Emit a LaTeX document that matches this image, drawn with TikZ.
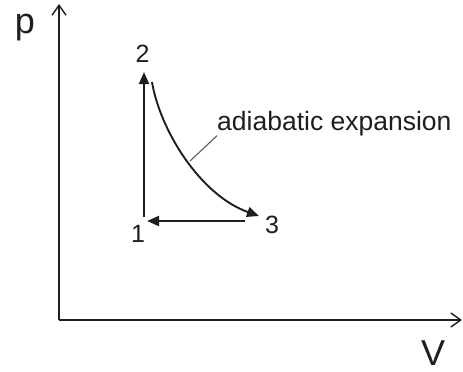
\documentclass[tikz,border=0pt]{standalone}
\usepackage{fontspec}
\setmainfont{Liberation Sans}
\usetikzlibrary{arrows.meta}
\definecolor{inkgray}{RGB}{30,30,30}
\definecolor{leadgray}{RGB}{90,90,90}

\begin{document}
\begin{tikzpicture}[x=1pt,y=-1pt,line join=round,
    axis/.style={line width=1.6pt,inkgray,-{Straight Barb[length=10pt,width=14pt,line width=1.4pt]}},
    process/.style={line width=1.9pt,inkgray,-{Triangle[length=12pt,width=10pt]}},
    statelabel/.style={font=\fontsize{25}{25}\selectfont,inkgray,anchor=base},
    axislabel/.style={font=\fontsize{36}{36}\selectfont,inkgray,anchor=base}]
  \useasboundingbox (0,0) rectangle (463,372);
  \coordinate (O) at (59,320);
  \coordinate (Ptip) at (59,4);
  \coordinate (Vtip) at (462,320);
  \coordinate (S1) at (144,217);
  \coordinate (S1r) at (147,221);
  \coordinate (S2) at (144,72);
  \coordinate (S2c) at (152,82);
  \coordinate (S3) at (259,216);
  \coordinate (S3l) at (245,221);
  \coordinate (Lfoot) at (190,161);
  \draw[axis] (O)--(Ptip);
  \draw[axis] (O)--(Vtip);
  \draw[process] (S1)--(S2);
  \draw[process] (S2c) .. controls (160,130) and (200,195) .. (S3);
  \draw[process] (S3l)--(S1r);
  \node[axislabel] (plabel) at (25,33) {p};
  \node[axislabel] (vlabel) at (433,365) {V};
  \node[statelabel] (lbl1) at (138,242) {1};
  \node[statelabel] (lbl2) at (142.5,62) {2};
  \node[statelabel] (lbl3) at (272,233) {3};
  \node[font=\fontsize{26.5}{26.5}\selectfont,inkgray,anchor=base west,inner sep=0pt] (adlabel) at (217,130) {adiabatic expansion};
  \draw[leadgray,line width=1.1pt] (Lfoot)--(adlabel.south west);
\end{tikzpicture}
\end{document}
